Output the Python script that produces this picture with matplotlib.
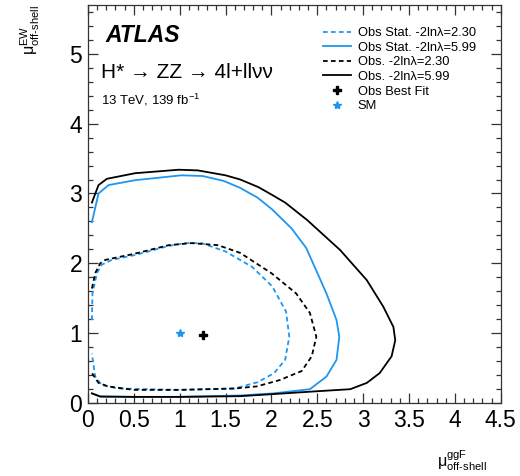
import numpy as np
import matplotlib
matplotlib.use("Agg")
import matplotlib.pyplot as plt
from matplotlib.lines import Line2D
from matplotlib.ticker import MultipleLocator

plt.rcParams['font.family'] = ['Liberation Sans', 'DejaVu Sans']
plt.rcParams['mathtext.fontset'] = 'custom'
plt.rcParams['mathtext.rm'] = 'Liberation Sans'
plt.rcParams['mathtext.it'] = 'Liberation Sans:italic'
plt.rcParams['mathtext.bf'] = 'Liberation Sans:bold'

BLUE = "#1e96f0"

# Obs. -2ln(lambda)=5.99 (open contour, drawn from top-left clockwise)
obs99_x = [0.044, 0.116, 0.207, 0.515, 0.99, 1.20, 1.50, 1.66, 1.86, 2.02, 2.15, 2.39, 2.75, 3.04,
           3.22, 3.33, 3.35, 3.31, 3.18, 3.04, 2.86, 2.49, 2.02, 1.66, 1.0, 0.5, 0.134, 0.044]
obs99_y = [2.87, 3.12, 3.21, 3.29, 3.34, 3.33, 3.26, 3.20, 3.09, 2.97, 2.87, 2.62, 2.19, 1.76,
           1.38, 1.09, 0.90, 0.67, 0.43, 0.29, 0.20, 0.17, 0.13, 0.10, 0.09, 0.09, 0.095, 0.14]

# Obs Stat. -2ln(lambda)=5.99
stat99_x = [0.044, 0.116, 0.225, 0.515, 1.02, 1.25, 1.48, 1.66, 1.85, 2.01, 2.22, 2.38, 2.60, 2.71,
            2.74, 2.71, 2.60, 2.42, 2.02, 1.66, 1.0, 0.5, 0.134, 0.044]
stat99_y = [2.59, 3.00, 3.12, 3.19, 3.26, 3.25, 3.18, 3.08, 2.94, 2.77, 2.50, 2.22, 1.57, 1.19,
            0.95, 0.62, 0.38, 0.20, 0.14, 0.11, 0.09, 0.09, 0.095, 0.14]

# Obs. -2ln(lambda)=2.30
obs23_x = [0.044, 0.08, 0.134, 0.19, 0.515, 0.88, 1.13, 1.42, 1.66, 2.0, 2.27, 2.42, 2.49, 2.44,
           2.33, 2.09, 1.84, 1.6, 1.0, 0.5, 0.22, 0.116, 0.044]
obs23_y = [1.64, 1.86, 2.0, 2.05, 2.14, 2.26, 2.29, 2.26, 2.15, 1.86, 1.57, 1.29, 0.95, 0.67,
           0.46, 0.33, 0.24, 0.21, 0.19, 0.19, 0.24, 0.29, 0.43]

# Obs Stat. -2ln(lambda)=2.30
stat23_x = [0.044, 0.05, 0.098, 0.15, 0.26, 0.515, 0.88, 1.06, 1.24, 1.50, 1.79, 2.01, 2.16, 2.195,
            2.15, 2.03, 1.85, 1.60, 1.0, 0.33, 0.15, 0.08, 0.044]
stat23_y = [1.19, 1.57, 1.86, 1.98, 2.05, 2.12, 2.25, 2.29, 2.29, 2.17, 1.95, 1.67, 1.31, 0.95,
            0.62, 0.43, 0.30, 0.21, 0.19, 0.21, 0.26, 0.38, 0.71]

best_fit = (1.26, 0.97)
sm_point = (1.0, 1.0)

labels = ["Obs Stat. -2ln\u03bb=2.30", "Obs Stat. -2ln\u03bb=5.99",
          "Obs. -2ln\u03bb=2.30", "Obs. -2ln\u03bb=5.99", "Obs Best Fit", "SM"]

fig = plt.figure(figsize=(5.2, 4.76), dpi=100)
ax = fig.add_axes([0.169, 0.153, 0.794, 0.837])

dash = (0, (2.6, 1.8))
ax.plot(stat23_x, stat23_y, color=BLUE, lw=1.3, linestyle=dash)
ax.plot(stat99_x, stat99_y, color=BLUE, lw=1.3)
ax.plot(obs23_x, obs23_y, color="black", lw=1.3, linestyle=dash)
ax.plot(obs99_x, obs99_y, color="black", lw=1.3)
ax.plot(*best_fit, marker="P", color="black", markersize=6, linestyle="none")
ax.plot(*sm_point, marker="*", color=BLUE, markersize=6, linestyle="none")

ax.set_xlim(0, 4.5)
ax.set_ylim(0, 5.7)
ax.xaxis.set_major_locator(MultipleLocator(0.5))
ax.xaxis.set_minor_locator(MultipleLocator(0.1))
ax.yaxis.set_major_locator(MultipleLocator(1))
ax.yaxis.set_minor_locator(MultipleLocator(0.2))
ax.set_xticks(np.arange(0, 4.51, 0.5))
ax.set_xticklabels(["0", "0.5", "1", "1.5", "2", "2.5", "3", "3.5", "4", "4.5"])
ax.tick_params(which="both", direction="in", top=True, right=True, width=0.9, color="#333333")
ax.tick_params(which="major", length=7, labelsize=16.5, pad=4)
ax.tick_params(which="minor", length=3.6)
for s in ax.spines.values():
    s.set_linewidth(0.9)
    s.set_color("#333333")

handles = [
    Line2D([], [], color=BLUE, lw=1.3, linestyle=dash),
    Line2D([], [], color=BLUE, lw=1.3),
    Line2D([], [], color="black", lw=1.3, linestyle=dash),
    Line2D([], [], color="black", lw=1.3),
    Line2D([], [], color="black", marker="P", markersize=6, linestyle="none"),
    Line2D([], [], color=BLUE, marker="*", markersize=6, linestyle="none"),
]
leg = ax.legend(handles, labels, loc="upper left", bbox_to_anchor=(323 / 520, 1 - 27 / 476),
                bbox_transform=fig.transFigure, frameon=False, fontsize=9.3,
                handlelength=2.2, handletextpad=0.5, labelspacing=0.2, borderpad=0,
                borderaxespad=0)

fig.text(105 / 520, 1 - 35 / 476, "ATLAS", fontsize=16.5, fontweight="bold", style="italic",
         va="center", ha="left")
fig.text(101 / 520, 1 - 73 / 476, "H* \u2192 ZZ \u2192 4l+ll\u03bd\u03bd", fontsize=15,
         va="center", ha="left")
fig.text(101 / 520, 1 - 100 / 476, r"13 TeV, 139 fb$^{\mathrm{-1}}$", fontsize=9.5,
         va="center", ha="left")

fig.text(30 / 520, 1 - 5 / 476, r"$\mathrm{\mu}^{\mathrm{EW}}_{\text{off-shell}}$", rotation=90,
         fontsize=11.5, ha="center", va="top")
fig.text(487 / 520, 3 / 476, r"$\mathrm{\mu}^{\mathrm{ggF}}_{\text{off-shell}}$",
         fontsize=11.5, ha="right", va="bottom")

fig.savefig("out.png", dpi=100)
